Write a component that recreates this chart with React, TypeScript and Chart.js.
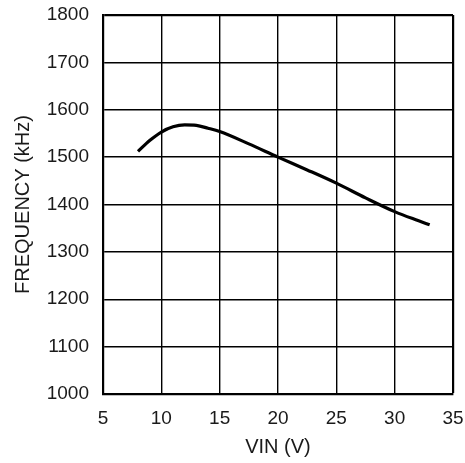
import React, { useEffect, useRef } from "react";
import { Chart, registerables } from "chart.js";

Chart.register(...registerables);

const vin = [8, 9, 10, 11, 12, 13, 14, 15, 17.5, 20, 22.5, 25, 27.5, 30, 32, 33];
const freq = [1512, 1535, 1553, 1564, 1568, 1567, 1561, 1554, 1528, 1500, 1473, 1445, 1414, 1385, 1366, 1357];
const xTitle = "VIN (V)";
const yTitle = "FREQUENCY (kHz)";

export default function App() {
  const ref = useRef<HTMLCanvasElement>(null);
  useEffect(() => {
    if (!ref.current) return;
    const family = "'Liberation Sans', Arial, sans-serif";
    const tickFont = { family, size: 19 };
    const titleFont = { family, size: 20 };
    const chart = new Chart(ref.current, {
      type: "line",
      data: {
        datasets: [
          {
            data: vin.map((x, i) => ({ x, y: freq[i] })),
            borderColor: "#000",
            borderWidth: 3.2,
            pointRadius: 0,
            cubicInterpolationMode: "monotone",
            fill: false,
          },
        ],
      },
      options: {
        animation: false,
        responsive: false,
        maintainAspectRatio: false,
        layout: { padding: { top: 15, right: 12, left: 0, bottom: 0 } },
        plugins: { legend: { display: false }, tooltip: { enabled: false } },
        scales: {
          x: {
            type: "linear",
            min: 5,
            max: 35,
            afterFit: (s: any) => {
              s.height = 69;
              s.paddingLeft = 0;
              s.paddingRight = 0;
            },
            ticks: { stepSize: 5, color: "#1a1a1a", font: tickFont, padding: 13, maxRotation: 0, callback: (v: any) => String(v) },
            grid: {
              color: "#000",
              lineWidth: (c: any) => (c.tick && c.tick.value === 35 ? 2.2 : 1.4),
              drawTicks: false,
            },
            border: { color: "#000", width: 2.2 },
            title: { display: true, text: xTitle, color: "#1a1a1a", font: titleFont, padding: { top: 0, bottom: 4 } },
          },
          y: {
            min: 1000,
            max: 1800,
            afterFit: (s: any) => {
              s.width = 103;
              s.paddingTop = 0;
              s.paddingBottom = 0;
            },
            ticks: { stepSize: 100, color: "#1a1a1a", font: tickFont, padding: 14, callback: (v: any) => String(v) },
            grid: {
              color: "#000",
              lineWidth: (c: any) => (c.tick && c.tick.value === 1800 ? 2.2 : 1.4),
              drawTicks: false,
            },
            border: { color: "#000", width: 2.2 },
            title: { display: true, text: yTitle, color: "#1a1a1a", font: titleFont, padding: { top: 11, bottom: 0 } },
          },
        },
      },
    });
    return () => chart.destroy();
  }, []);
  return (
    <div style={{ position: "fixed", left: 0, top: 0, width: 465, height: 463, background: "#fff" }}>
      <canvas ref={ref} width={465} height={463} />
    </div>
  );
}
